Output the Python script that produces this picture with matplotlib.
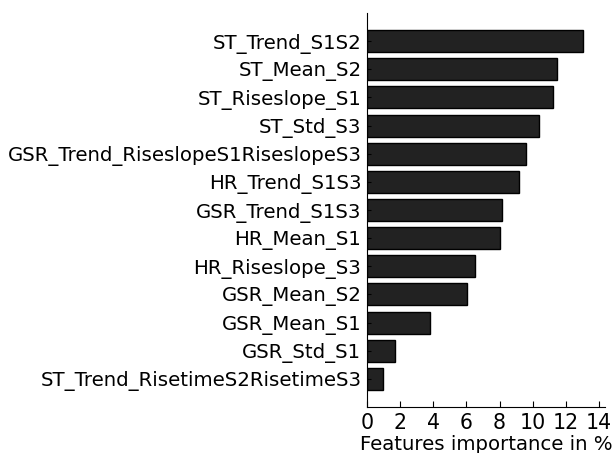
import matplotlib
matplotlib.use("Agg")
import matplotlib.pyplot as plt
import numpy as np

# Noms des variables, du plus important au moins important
features = [
    "ST_Trend_S1S2",
    "ST_Mean_S2",
    "ST_Riseslope_S1",
    "ST_Std_S3",
    "GSR_Trend_RiseslopeS1RiseslopeS3",
    "HR_Trend_S1S3",
    "GSR_Trend_S1S3",
    "HR_Mean_S1",
    "HR_Riseslope_S3",
    "GSR_Mean_S2",
    "GSR_Mean_S1",
    "GSR_Std_S1",
    "ST_Trend_RisetimeS2RisetimeS3",
]
importance = [13.03, 11.45, 11.23, 10.38, 9.6, 9.2, 8.17, 8.03, 6.52, 6.03, 3.78, 1.69, 0.99]
xticks = [0, 2, 4, 6, 8, 10, 12, 14]

fs = 14.2

fig = plt.figure(figsize=(6.14, 4.53), dpi=100)
ax = fig.add_axes([0.5977, 0.1015, 0.3876, 0.8698])

y = np.arange(len(features))[::-1]
ax.barh(y, importance, height=0.78, color="#222222", edgecolor="black",
        linewidth=1)

ax.set_yticks(y)
ax.set_yticklabels(features, fontsize=fs)
ax.set_xticks(xticks)
ax.set_xticklabels([str(t) for t in xticks], fontsize=fs + 0.6)
ax.set_xlim(0, 14.36)
ax.set_ylim(-1, 13)
ax.set_xlabel("Features importance in %", fontsize=fs, labelpad=2)

ax.spines["top"].set_visible(False)
ax.spines["right"].set_visible(False)
ax.tick_params(axis="both", direction="in", length=4, pad=4)
ax.tick_params(axis="y", length=3, pad=4)

fig.savefig("out.png", dpi=100)
